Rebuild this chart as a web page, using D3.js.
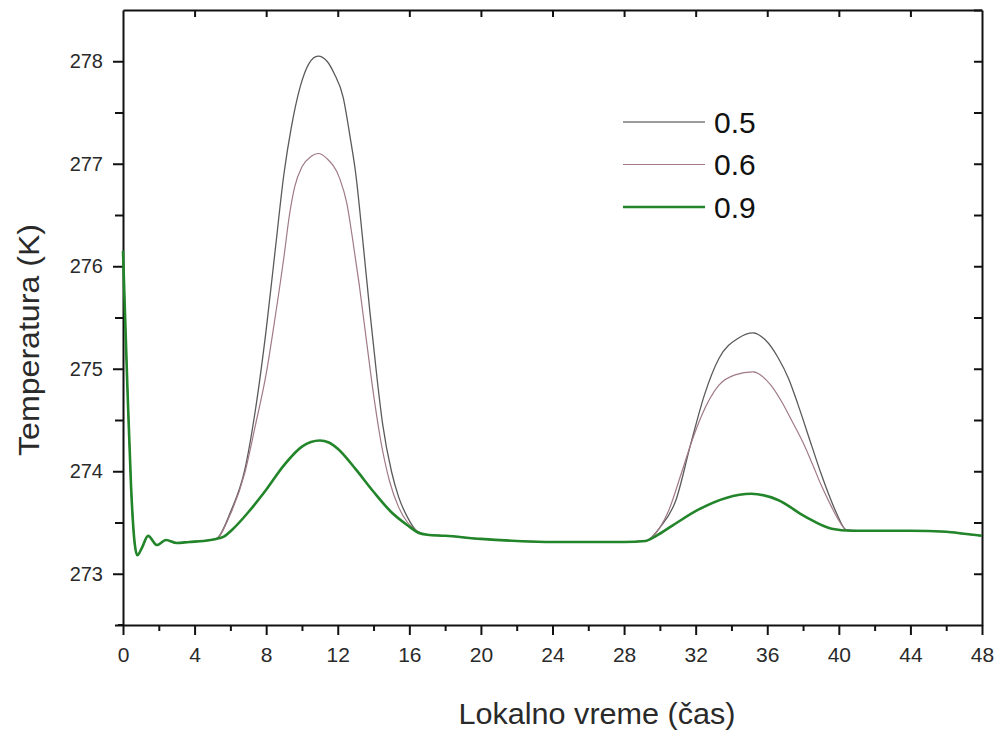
<!DOCTYPE html>
<html>
<head>
<meta charset="utf-8">
<script src="https://cdn.jsdelivr.net/npm/d3@7"></script>
<style>
  body { margin: 0; background: #fff; }
  svg text { font-family: Arial, "Liberation Sans", sans-serif; }
</style>
</head>
<body>
<div id="chart"></div>
<script>
// shared start (all three curves overlap here)
var hoursStart = [0, 0.1, 0.25, 0.45, 0.65, 0.8, 1.05, 1.4, 1.9, 2.4, 3.0, 3.7, 4.5, 5.2];
var tempStart = [276.15, 275.6, 274.8, 273.85, 273.3, 273.18, 273.25, 273.37, 273.28, 273.33, 273.3, 273.31, 273.32, 273.34];

// nighttime plateau and tail (shared)
var hoursMid = [17, 18, 20, 22, 24, 26, 28, 29.2];
var tempMid = [273.38, 273.37, 273.34, 273.32, 273.31, 273.31, 273.31, 273.32];
var hoursEnd = [41, 42, 44, 46, 47, 48];
var tempEnd = [273.42, 273.42, 273.42, 273.41, 273.39, 273.37];

// albedo 0.5
var hours05 = [6.0, 6.8, 7.4, 8.0, 8.5, 9.0, 9.4, 9.9, 10.4, 10.9, 11.4, 11.8, 12.3, 12.7, 13.0, 13.4, 13.8, 14.2, 14.5, 15.0, 15.4, 15.9, 16.4,
               30, 30.9, 31.7, 32.5, 33.3, 34.4, 35.2, 35.9, 36.6, 37.2, 37.7, 38.5, 39.0, 39.4, 39.9, 40.4];
var temp05 = [273.6, 274.01, 274.6, 275.38, 276.15, 276.91, 277.35, 277.75, 277.98, 278.05, 278.0, 277.88, 277.65, 277.25, 276.91, 276.25, 275.55, 274.9, 274.47, 274.0, 273.75, 273.55, 273.42,
              273.45, 273.72, 274.25, 274.75, 275.1, 275.3, 275.35, 275.28, 275.11, 274.9, 274.66, 274.24, 273.98, 273.79, 273.58, 273.43];

// albedo 0.6
var hours06 = [6.0, 6.8, 7.4, 8.0, 8.5, 9.0, 9.3, 9.6, 10.0, 10.5, 10.9, 11.4, 12.1, 12.5, 12.8, 13.2, 13.6, 14.0, 14.4, 14.9, 15.4, 15.9, 16.4,
               30, 30.5, 31.2, 31.8, 32.3, 33.3, 34.2, 35.2, 36.2, 36.8, 37.35, 38.0, 38.5, 39.0, 39.6, 40.0, 40.4];
var temp06 = [273.58, 273.98, 274.45, 274.95, 275.5, 276.1, 276.5, 276.78, 276.97, 277.07, 277.1, 277.05, 276.86, 276.62, 276.3, 275.82, 275.28, 274.75, 274.3, 273.9, 273.65, 273.5, 273.42,
              273.45, 273.62, 273.98, 274.3, 274.53, 274.84, 274.94, 274.97, 274.84, 274.68, 274.5, 274.28, 274.08, 273.87, 273.65, 273.52, 273.43];

// albedo 0.9
var hours09 = [5.6, 6.1, 7.0, 8.0, 9.0, 10.0, 11.0, 11.5, 12.0, 13.0, 14.0, 15.0, 16.0, 16.5,
               29.8, 30.7, 32.2, 33.7, 35.1, 36.6, 38.1, 39.6, 40.7];
var temp09 = [273.36, 273.43, 273.6, 273.82, 274.06, 274.24, 274.3, 274.28, 274.22, 274.02, 273.8, 273.6, 273.46, 273.4,
              273.37, 273.47, 273.63, 273.74, 273.78, 273.72, 273.56, 273.44, 273.42];

var seriesNames = ["0.5", "0.6", "0.9"];
var seriesColors = ["#5a5a5a", "#a07a84", "#23852a"];
var seriesWidths = [1.3, 1.2, 2.6];

var xTicks = [0, 4, 8, 12, 16, 20, 24, 28, 32, 36, 40, 44, 48];
var yTicks = [273, 274, 275, 276, 277, 278];

function build(hs, ts) {
    // join shared segments with the series-specific parts, then sort by hour
    var h = hoursStart.concat(hs, hoursMid, hoursEnd);
    var t = tempStart.concat(ts, tempMid, tempEnd);
    var pts = h.map(function (d, i) { return { x: d, y: t[i] }; });
    pts.sort(function (a, b) { return a.x - b.x; });
    return pts;
}
var series = [build(hours05, temp05), build(hours06, temp06), build(hours09, temp09)];

var width = 1005, height = 736;
var margin = { top: 10, right: 21, bottom: 111, left: 123 };
var w = width - margin.left - margin.right,
    h = height - margin.top - margin.bottom;

var svg = d3.select("#chart").append("svg")
    .attr("width", width).attr("height", height);
var g = svg.append("g").attr("transform", "translate(" + margin.left + "," + margin.top + ")");

var x = d3.scaleLinear().domain([0, 48]).range([0, w - 2]);
var y = d3.scaleLinear().domain([272.5, 278.5]).range([h, 0]);

// bottom axis: majors every 4, minors every 2
var xAxis = g.append("g").attr("transform", "translate(0," + h + ")")
    .call(d3.axisBottom(x).tickValues(xTicks).tickFormat(d3.format("d")).tickSize(10).tickPadding(12).tickSizeOuter(0));
g.append("g").attr("transform", "translate(0," + h + ")")
    .call(d3.axisBottom(x).tickValues(d3.range(2, 48, 4)).tickFormat("").tickSize(6).tickSizeOuter(0))
    .select(".domain").remove();

// left axis: majors every 1, minors every 0.5
var yAxis = g.append("g")
    .call(d3.axisLeft(y).tickValues(yTicks).tickFormat(d3.format("d")).tickSize(10).tickPadding(10).tickSizeOuter(0));
g.append("g")
    .call(d3.axisLeft(y).tickValues([272.5, 273.5, 274.5, 275.5, 276.5, 277.5]).tickFormat("").tickSize(8).tickSizeOuter(0))
    .select(".domain").remove();

// right and top frame with inward ticks
g.append("g").attr("transform", "translate(" + (w - 2) + ",0)")
    .call(d3.axisRight(y).tickValues(d3.range(273, 278.6, 0.5)).tickFormat("").tickSize(-8).tickSizeOuter(0));
g.append("g")
    .call(d3.axisTop(x).tickValues(xTicks.slice(1, -1)).tickFormat("").tickSize(-7).tickSizeOuter(0));

g.selectAll(".domain").attr("stroke", "#111").attr("stroke-width", 2);
g.selectAll(".tick line").attr("stroke", "#111").attr("stroke-width", 2);
xAxis.selectAll("text").attr("font-size", 21).attr("fill", "#2a2a2a");
yAxis.selectAll("text").attr("font-size", 20).attr("fill", "#2a2a2a")
    .attr("font-family", "'DejaVu Sans', sans-serif");

// x axis line extends slightly past the y axis
g.append("line").attr("x1", -5).attr("x2", 0).attr("y1", h).attr("y2", h)
    .attr("stroke", "#111").attr("stroke-width", 2);

var line = d3.line()
    .x(function (d) { return x(d.x); })
    .y(function (d) { return y(d.y); })
    .curve(d3.curveMonotoneX);

g.selectAll(".series").data(series).enter().append("path")
    .attr("class", "series")
    .attr("d", line)
    .attr("fill", "none")
    .attr("stroke", function (d, i) { return seriesColors[i]; })
    .attr("stroke-width", function (d, i) { return seriesWidths[i]; })
    .attr("stroke-linejoin", "round");

// legend
var legend = svg.append("g").attr("transform", "translate(623,122)");
seriesNames.forEach(function (name, i) {
    var row = legend.append("g").attr("transform", "translate(0," + (i * 42.5) + ")");
    row.append("line").attr("x1", 0).attr("x2", 82).attr("y1", 0).attr("y2", 0)
        .attr("stroke", i === 0 ? "#7a7a7a" : seriesColors[i]).attr("stroke-width", seriesWidths[i]);
    row.append("text").attr("x", 91).attr("y", 10.5).attr("font-size", 30).attr("fill", "#111").text(name);
});

// axis titles
svg.append("text").attr("x", 597).attr("y", 724).attr("text-anchor", "middle")
    .attr("font-size", 30).attr("fill", "#2a2a2a")
    .attr("textLength", 277).attr("lengthAdjust", "spacingAndGlyphs")
    .text("Lokalno vreme (čas)");
svg.append("text").attr("transform", "translate(39,340) rotate(-90)").attr("text-anchor", "middle")
    .attr("font-size", 29).attr("fill", "#2a2a2a")
    .attr("textLength", 232).attr("lengthAdjust", "spacingAndGlyphs")
    .text("Temperatura (K)");
</script>
</body>
</html>
